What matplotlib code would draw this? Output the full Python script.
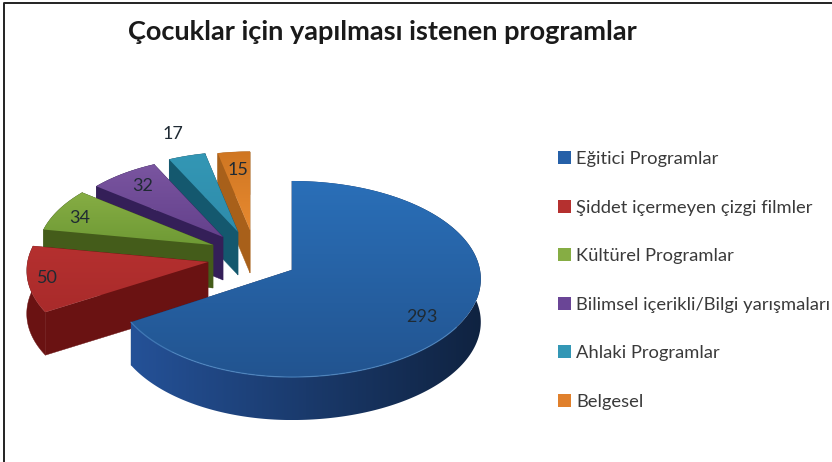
import numpy as np
import matplotlib
matplotlib.use('Agg')
import matplotlib.pyplot as plt
from matplotlib.colors import LinearSegmentedColormap
from matplotlib.patches import Patch, Polygon

plt.rcParams['font.family'] = ['Lato', 'DejaVu Sans']

# chart data
categories = ['Eğitici Programlar', 'Şiddet içermeyen çizgi filmler', 'Kültürel Programlar',
              'Bilimsel içerikli/Bilgi yarışmaları', 'Ahlaki Programlar', 'Belgesel']
values = [293, 50, 34, 32, 17, 15]
title = 'Çocuklar için yapılması istenen programlar'

# look of each slice, same order as categories
top_far = ['#2a6fb8', '#b5302f', '#86ad44', '#7a55a0', '#3397b5', '#cf7622']
top_near = ['#225490', '#a92b2b', '#6f9a35', '#64418c', '#2f8cab', '#e88a30']
side_cols = ['#1a3a6c', '#6a1212', '#445c1a', '#341f58', '#14586e', '#a8601a']
legend_cols = ['#2560a8', '#b5302f', '#86ad44', '#6a4596', '#3397b5', '#e0802c']

# where the apex of each slice sits in the picture, and how much it shrinks
apex_x = [292, 208, 213, 223, 238, 250]
apex_y = [270, 262, 245, 237, 232, 230]
shrink = [1.0, 0.96, 0.93, 0.90, 0.90, 0.88]
left_squeeze = [0.95, 1, 1, 1, 1, 1]
label_xy = [(422, 317), (47, 278), (80, 218), (143, 186), (173, 134), (238, 170)]

RX, RY, PERSP, DEPTH = 188, 97.2, 0.092, 43


def project(theta):
    # flat circle to a tilted ellipse, nearer part a bit larger
    t = np.radians(theta)
    s = 1 / (1 + PERSP * np.sin(t))
    return RX * np.cos(t) * s, -RY * np.sin(t) * s


def scale_col(col, f):
    rgb = np.array(matplotlib.colors.to_rgb(col)) * f
    return tuple(np.clip(rgb, 0, 1))


def gradient_fill(ax, verts, colors, z, horizontal=False):
    # polygon filled with a linear gradient, imshow clipped to the shape
    shape = Polygon(verts, fc='none', ec='none', zorder=z)
    ax.add_patch(shape)
    cmap = LinearSegmentedColormap.from_list('g', colors)
    ramp = np.linspace(0, 1, 128)
    ramp = ramp.reshape(1, -1) if horizontal else ramp.reshape(-1, 1)
    ext = [verts[:, 0].min(), verts[:, 0].max(), verts[:, 1].max(), verts[:, 1].min()]
    im = ax.imshow(ramp, cmap=cmap, extent=ext, aspect='auto', zorder=z, origin='upper')
    im.set_clip_path(shape)


def draw_slice(ax, i, th1, th2):
    # th1 > th2, clockwise from th1 to th2
    thetas = np.linspace(th1, th2, max(int(th1 - th2), 4) + 1)
    px, py = project(thetas)
    px = np.where(px < 0, px * left_squeeze[i], px)
    x = apex_x[i] + px * shrink[i]
    y = apex_y[i] + py * shrink[i]
    ax0, ay0 = apex_x[i], apex_y[i]
    z = 8 - i

    # radial walls
    for xe, ye in [(x[0], y[0]), (x[-1], y[-1])]:
        ax.add_patch(Polygon([(ax0, ay0), (xe, ye), (xe, ye + DEPTH), (ax0, ay0 + DEPTH)],
                             fc=side_cols[i], ec=side_cols[i], lw=0.3, zorder=z))

    # outer wall, the big slice gets lighter to the left
    wall = np.vstack([np.column_stack([x, y]), np.column_stack([x, y + DEPTH])[::-1]])
    if i == 0:
        gradient_fill(ax, wall, [scale_col(side_cols[i], 1.4), scale_col(side_cols[i], 0.6)],
                      z + 0.1, horizontal=True)
    else:
        ax.add_patch(Polygon(wall, fc=side_cols[i], ec=side_cols[i], lw=0.3, zorder=z + 0.1))

    # top face
    verts = np.vstack([[ax0, ay0], np.column_stack([x, y])])
    gradient_fill(ax, verts, [top_far[i], top_near[i]], z + 0.5)
    if i == 0:
        # light rim along the front edge only
        front = (y > ay0 + 15) & (x < ax0 + 165)
        ax.plot(x[front], y[front], color='#4f8ac6', lw=0.9, alpha=0.7, zorder=9)


fig = plt.figure(figsize=(8.32, 4.62), dpi=100)
ax = fig.add_axes([0, 0, 1, 1])
ax.set_axis_off()

total = sum(values)
sweep = [360 * v / total for v in values]
start = 90.0
for i in range(len(values)):
    draw_slice(ax, i, start, start - sweep[i])
    start -= sweep[i]

ax.set_xlim(0, 832)
ax.set_ylim(462, 0)

for v, (lx, ly) in zip(values, label_xy):
    ax.text(lx, ly, str(v), fontsize=13, color='#1f2a33', ha='center', va='center', zorder=20)

ax.text(382, 32, title, fontsize=19.5, fontweight='bold', color='#1a1a1a', ha='center', va='center')

handles = [Patch(fc=c, ec='none') for c in legend_cols]
leg = ax.legend(handles, categories, loc='upper left', bbox_to_anchor=(558, 151),
                bbox_transform=ax.transData, frameon=False, fontsize=13.2, labelcolor='#3a3a3a',
                handlelength=0.72, handleheight=0.72, handletextpad=0.28, labelspacing=1.775,
                borderpad=0, borderaxespad=0)

# only the left and top edges of the frame show
ax.plot([3.5, 3.5, 832], [462, 2.5, 2.5], color='#222222', lw=1.4, zorder=30)

fig.savefig('out.png', dpi=100, facecolor='white')
